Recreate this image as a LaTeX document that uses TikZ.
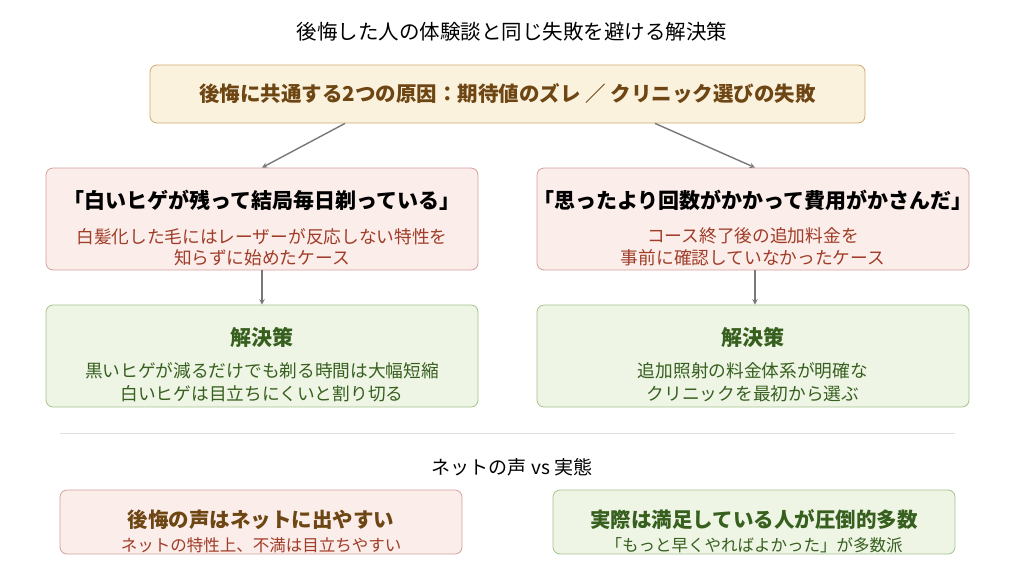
\documentclass[tikz,border=0pt]{standalone}
\usepackage{fontspec}
\setmainfont{Noto Sans CJK JP}
\usepackage{xcolor}
\definecolor{causeFill}{RGB}{251, 242, 222}
\definecolor{causeLine}{RGB}{204, 170, 110}
\definecolor{causeText}{RGB}{110, 70, 20}
\definecolor{failFill}{RGB}{251, 237, 234}
\definecolor{failLine}{RGB}{214, 160, 155}
\definecolor{failText}{RGB}{160, 60, 40}
\definecolor{fixFill}{RGB}{238, 245, 229}
\definecolor{fixLine}{RGB}{165, 196, 140}
\definecolor{fixText}{RGB}{55, 95, 30}
\definecolor{arrowGray}{RGB}{120, 120, 120}
\tikzset{
  box/.style={draw, rounded corners=7pt, line width=0.8pt, align=center},
  cause/.style={box, fill=causeFill, draw=causeLine, text=causeText},
  fail/.style={box, fill=failFill, draw=failLine},
  fix/.style={box, fill=fixFill, draw=fixLine},
  flow/.style={->, >=stealth, line width=1.4pt, arrowGray}
}
\begin{document}
\begin{tikzpicture}[x=1pt, y=-1pt]
            \useasboundingbox (0,0) rectangle (1024,581);
            % Title
            \node[font=\fontsize{20.5}{24}\selectfont] (title) at (512,32) {後悔した人の体験談と同じ失敗を避ける解決策};
            
            \node[cause, minimum width=715pt, minimum height=58pt, font=\bfseries\fontsize{20.5}{24}\selectfont] (cause) at (507.5,94) {後悔に共通する2つの原因：期待値のズレ ／ クリニック選びの失敗};
            
            % Failure cases
            \node[fail, minimum width=432pt, minimum height=102pt] (failL) at (262,219) {};
            \node[font=\bfseries\fontsize{21}{24}\selectfont] (failLhead) at (262,200) {「白いヒゲが残って結局毎日剃っている」};
            \node[text=failText, font=\fontsize{17.7}{21.5}\selectfont, align=center] (failLtext) at (262,247) {白髪化した毛にはレーザーが反応しない特性を\\知らずに始めたケース};
            
            \node[fail, minimum width=432pt, minimum height=102pt] (failR) at (753,219) {};
            \node[font=\bfseries\fontsize{21}{24}\selectfont] (failRhead) at (753,200) {「思ったより回数がかかって費用がかさんだ」};
            \node[text=failText, font=\fontsize{17.7}{21.5}\selectfont, align=center] (failRtext) at (753,247) {コース終了後の追加料金を\\事前に確認していなかったケース};
            
            % Solutions
            \node[fix, minimum width=432pt, minimum height=102pt] (fixL) at (262,356) {};
            \node[text=fixText, font=\bfseries\fontsize{21}{24}\selectfont] (fixLhead) at (262,337) {解決策};
            \node[text=fixText, font=\fontsize{17.7}{22.5}\selectfont, align=center] (fixLtext) at (262,382) {黒いヒゲが減るだけでも剃る時間は大幅短縮\\白いヒゲは目立ちにくいと割り切る};
            
            \node[fix, minimum width=432pt, minimum height=102pt] (fixR) at (753,356) {};
            \node[text=fixText, font=\bfseries\fontsize{21}{24}\selectfont] (fixRhead) at (753,337) {解決策};
            \node[text=fixText, font=\fontsize{17.7}{22.5}\selectfont, align=center] (fixRtext) at (753,382) {追加照射の料金体系が明確な\\クリニックを最初から選ぶ};
            
            \draw[flow] (cause.south -| 345,0) -- (failL.north -| 262,0);
            \draw[flow] (cause.south -| 655,0) -- (failR.north -| 755,0);
            \draw[flow] (failL) -- (fixL);
            \draw[flow] (failR.south -| 755,0) -- (fixR.north -| 755,0);
            
            % Separator and bottom comparison
            \coordinate (sepA) at (60,433);
            \coordinate (sepB) at (955,433);
            \draw[black!12, line width=0.8pt] (sepA) -- (sepB);
            \node[font=\fontsize{19}{22}\selectfont] (voice) at (512,467) {ネットの声 vs 実態};
            
            \node[fail, minimum width=402pt, minimum height=64pt] (netL) at (261,522) {};
            \node[text=causeText, font=\bfseries\fontsize{20.5}{24}\selectfont] (netLhead) at (261,520) {後悔の声はネットに出やすい};
            \node[text=failText, font=\fontsize{16.5}{19}\selectfont] (netLtext) at (261,545) {ネットの特性上、不満は目立ちやすい};
            
            \node[fix, minimum width=402pt, minimum height=64pt] (netR) at (754,522) {};
            \node[text=fixText, font=\bfseries\fontsize{20.5}{24}\selectfont] (netRhead) at (754,520) {実際は満足している人が圧倒的多数};
            \node[text=fixText, font=\fontsize{16.5}{19}\selectfont] (netRtext) at (754,545) {「もっと早くやればよかった」が多数派};
        \end{tikzpicture}
\end{document}
